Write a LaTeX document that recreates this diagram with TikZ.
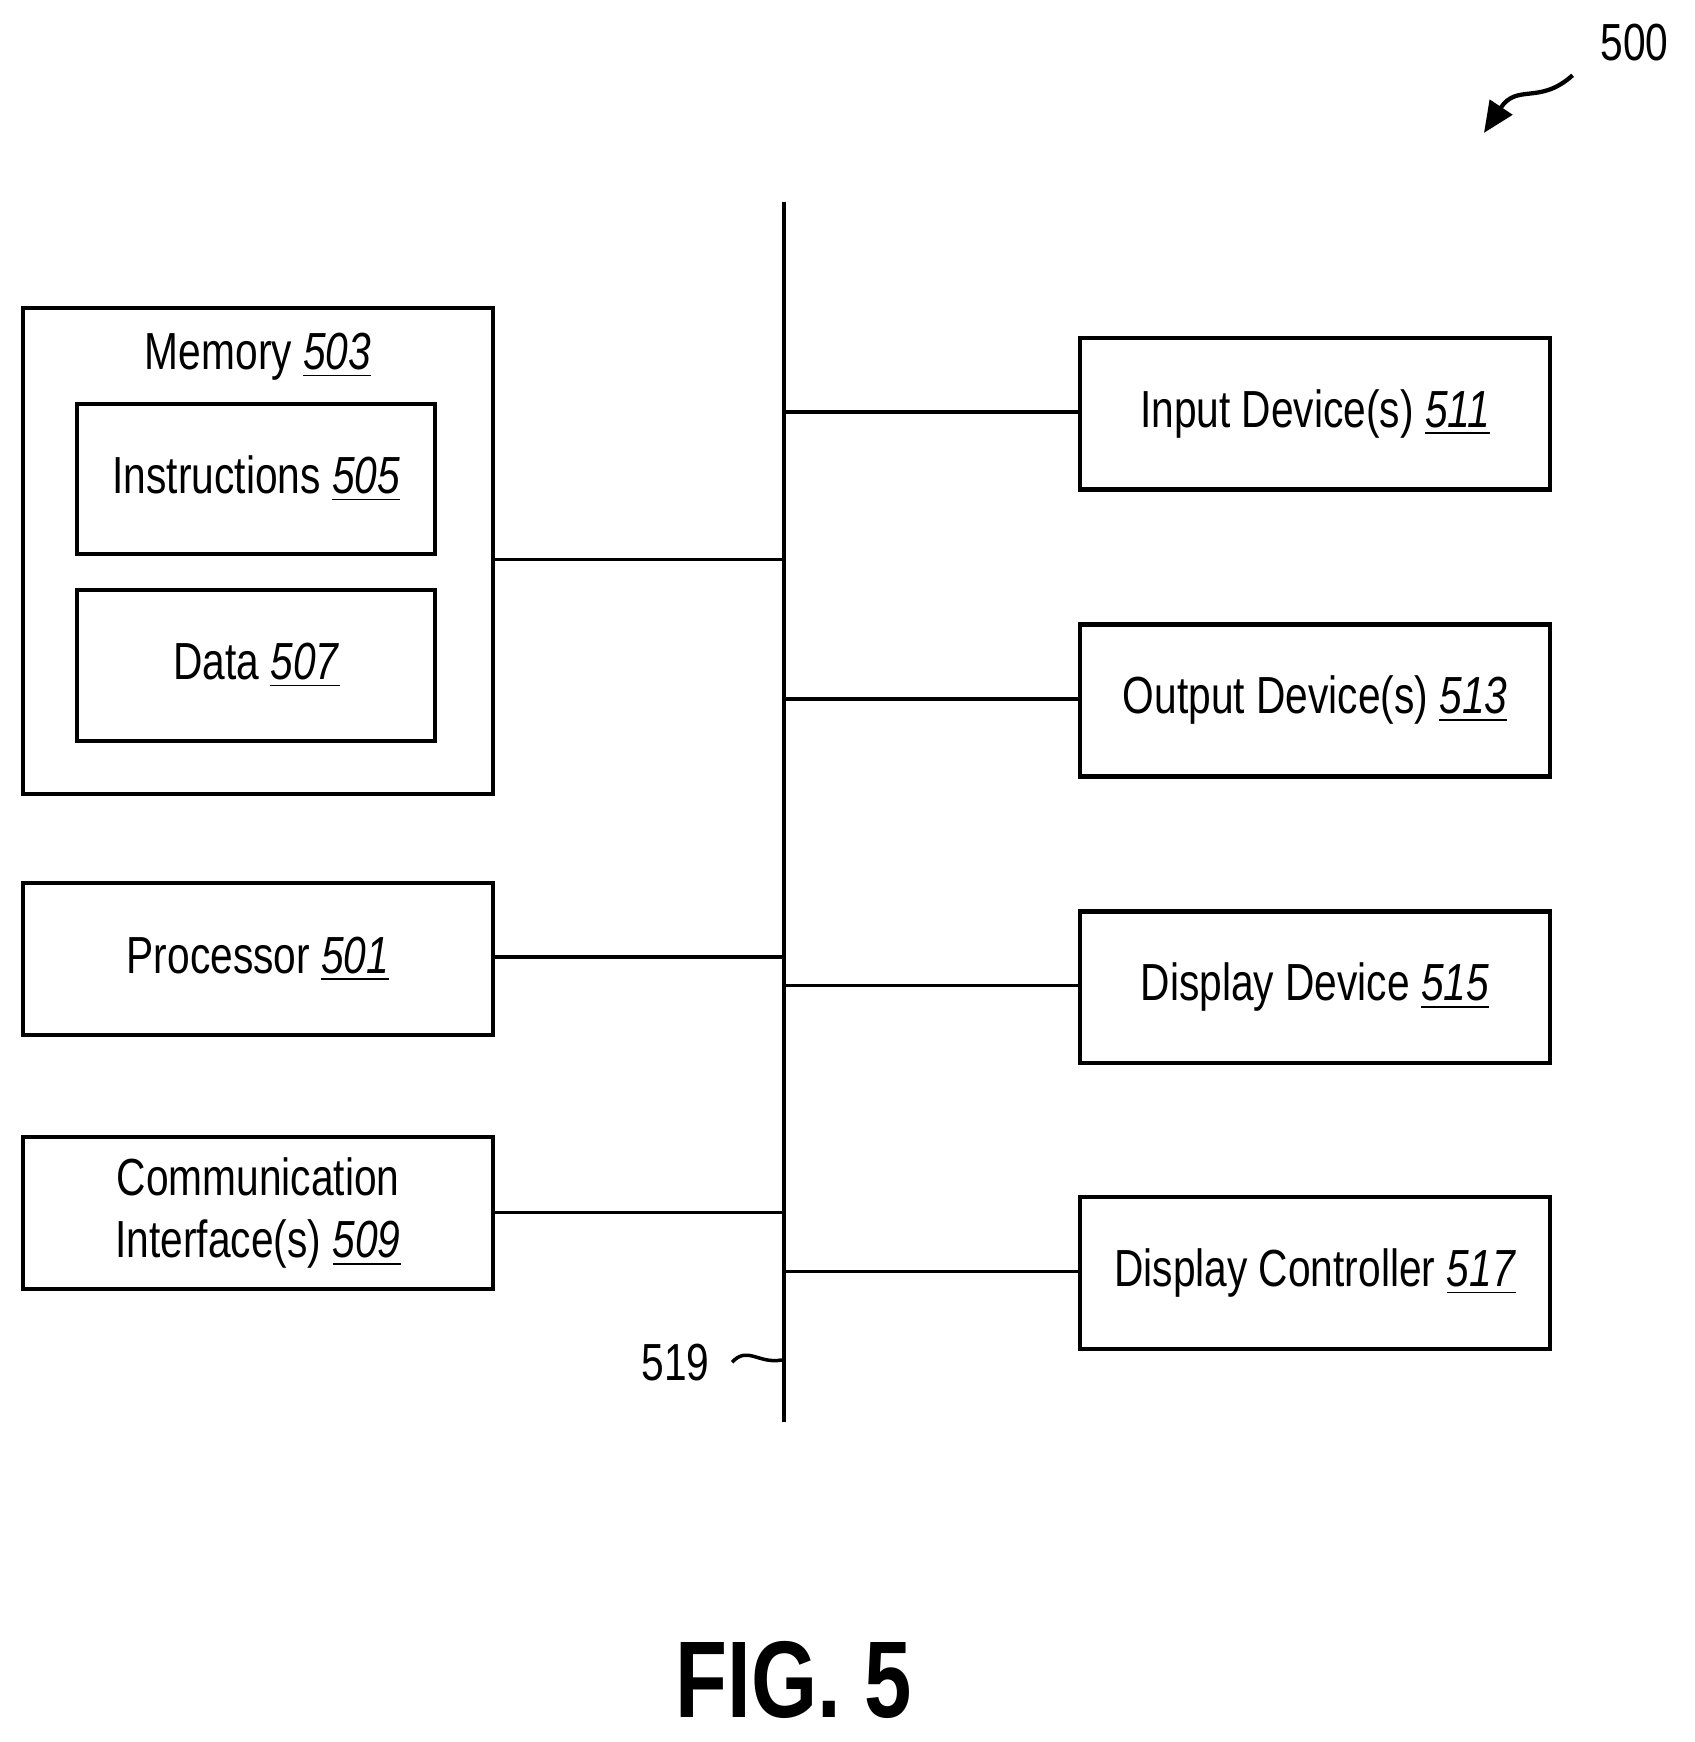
\documentclass[tikz,border=0pt]{standalone}
\usepackage{fontspec}
\setmainfont{Liberation Sans}[FakeStretch=0.78]
\usetikzlibrary{positioning,arrows.meta}
\newcommand{\refnum}[1]{\underline{\textit{#1}}}
\tikzset{
  box/.style={draw, line width=1.1pt, minimum width=4.24cm, minimum height=1.37cm, align=center, font=\fontsize{13.4}{16}\selectfont},
  inner/.style={draw, line width=1pt, minimum width=3.23cm, minimum height=1.36cm, align=center, font=\fontsize{13.4}{16}\selectfont},
  bus/.style={line width=0.9pt}
}
\begin{document}
\begin{tikzpicture}[x=0.01cm, y=-0.01cm]
    \useasboundingbox (0,0) rectangle (1530,1573);
    % Place nodes
    \node [draw, line width=1.1pt, minimum width=4.24cm, minimum height=4.39cm] (memory) at (233,497.5) {};
    \node [font=\fontsize{13.4}{16}\selectfont] (memLabel) at (233,322) {Memory \refnum{503}};
    \node [inner] (instructions) at (231.5,432.5) {Instructions \refnum{505}};
    \node [inner] (data) at (231.5,601) {Data \refnum{507}};
    \node [box] (processor) at (233,866) {Processor \refnum{501}};
    \node [box] (comm) at (233,1095.5) {Communication\\Interface(s) \refnum{509}};
    \node [box] (input) at (1187.5,373.5) {Input Device(s) \refnum{511}};
    \node [box] (output) at (1187.5,632.5) {Output Device(s) \refnum{513}};
    \node [box] (display) at (1187.5,891.5) {Display Device \refnum{515}};
    \node [box] (controller) at (1187.5,1149.5) {Display Controller \refnum{517}};
    \coordinate (busTop) at (708,182);
    \coordinate (busBottom) at (708,1284);
    \node [font=\fontsize{13.4}{16}\selectfont] (busLabel) at (610,1230) {519};
    \node [font=\fontsize{13.4}{16}\selectfont] (figLabel) at (1476,38) {500};
    \node [font=\bfseries\fontsize{28}{34}\selectfont] (caption) at (717,1517) {FIG. 5};
    % Draw edges
    \draw [bus] (busTop) -- (busBottom);
    \draw [bus] (memory.east |- 0,505) -- (708,505);
    \draw [bus] (processor.east |- 0,864) -- (708,864);
    \draw [bus] (comm.east |- 0,1095) -- (708,1095);
    \draw [bus] (708,372) -- (input.west |- 0,372);
    \draw [bus] (708,631) -- (output.west |- 0,631);
    \draw [bus] (708,890) -- (display.west |- 0,890);
    \draw [bus] (708,1148) -- (controller.west |- 0,1148);
    \draw [bus] (busLabel.east) ++(8,0) .. controls (675,1215) and (685,1232) .. (706,1228);
    \draw [line width=1.1pt, -{Triangle[length=0.28cm, width=0.24cm]}] (1420,68) .. controls (1390,95) and (1370,75) .. (1340,120);
\end{tikzpicture}
\end{document}
